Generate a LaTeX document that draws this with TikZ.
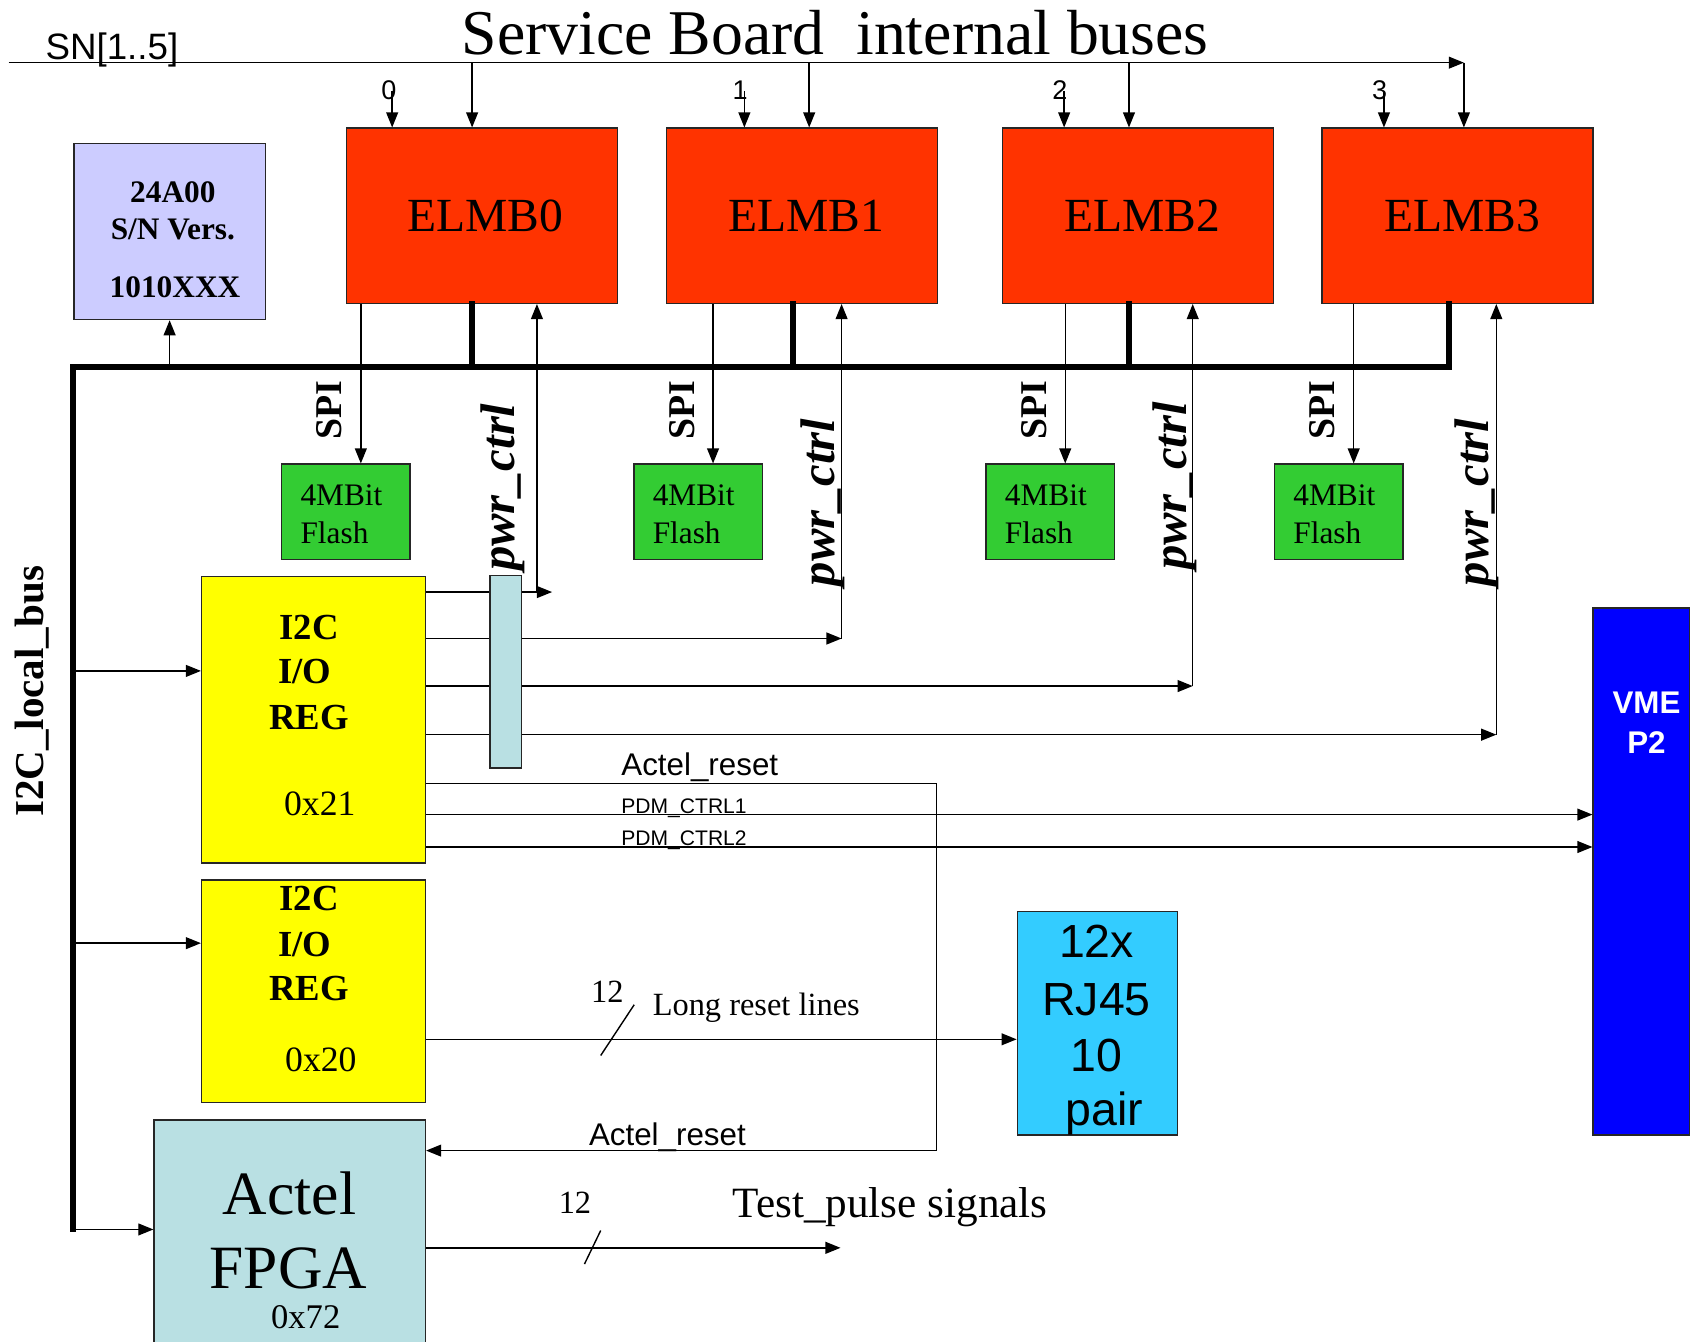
\documentclass[tikz,border=0pt]{standalone}
\usepackage{fontspec}
\setmainfont{Liberation Serif}
\setsansfont{Liberation Sans}
\usetikzlibrary{arrows.meta}
\newcommand{\fsz}[1]{\fontsize{#1}{#1}\selectfont}
\definecolor{elmbred}{HTML}{FF3300}
\definecolor{flashgreen}{HTML}{33CC33}
\definecolor{regyellow}{HTML}{FFFF00}
\definecolor{eeprom}{HTML}{CCCCFF}
\definecolor{actelcyan}{HTML}{B9E0E3}
\definecolor{rjblue}{HTML}{33CCFF}
\definecolor{vmeblue}{HTML}{0000FF}
\tikzset{
  blk/.style={draw=black!85, line width=1.4pt, inner sep=0pt, anchor=north west},
  arr/.style={line width=1.3pt, -{Triangle[length=14pt,width=11pt]}},
  wire/.style={line width=1.3pt},
  bus/.style={line width=5.5pt, line join=miter, line cap=rect},
  lbl/.style={inner sep=0pt, anchor=base},
  lblw/.style={inner sep=0pt, anchor=base west},
  vlbl/.style={inner sep=0pt, rotate=90},
}
\begin{document}
\begin{tikzpicture}[x=1pt,y=-1pt]
\useasboundingbox (0,0) rectangle (1568,1242);

% ---------- blocks ----------
\node[blk, fill=eeprom, minimum width=177pt, minimum height=163pt] (eep) at (68,132) {};
\node[blk, fill=elmbred, minimum width=251pt, minimum height=162pt, font=\fsz{44}] (elmb0) at (320,118) {\hspace*{6pt}ELMB0};
\node[blk, fill=elmbred, minimum width=251pt, minimum height=162pt, font=\fsz{44}] (elmb1) at (616,118) {\hspace*{8pt}ELMB1};
\node[blk, fill=elmbred, minimum width=251pt, minimum height=162pt, font=\fsz{44}] (elmb2) at (927,118) {\hspace*{8pt}ELMB2};
\node[blk, fill=elmbred, minimum width=251pt, minimum height=162pt, font=\fsz{44}] (elmb3) at (1223,118) {\hspace*{8pt}ELMB3};
\node[blk, fill=flashgreen, minimum width=119pt, minimum height=88pt] (fl0) at (260,429) {};
\node[blk, fill=flashgreen, minimum width=119pt, minimum height=88pt] (fl1) at (586,429) {};
\node[blk, fill=flashgreen, minimum width=119pt, minimum height=88pt] (fl2) at (912,429) {};
\node[blk, fill=flashgreen, minimum width=119pt, minimum height=88pt] (fl3) at (1179,429) {};
\node[blk, fill=regyellow, minimum width=207pt, minimum height=265pt] (reg1) at (186,533) {};
\node[blk, fill=regyellow, minimum width=207pt, minimum height=206pt] (reg0) at (186,814) {};
\node[blk, fill=actelcyan, minimum width=251pt, minimum height=214pt] (fpga) at (142,1036) {};
\node[blk, fill=rjblue, minimum width=148pt, minimum height=207pt] (rj) at (941,843) {};
\node[blk, fill=vmeblue, minimum width=89pt, minimum height=488pt] (vme) at (1474,562) {};

% ---------- serial-number bus ----------
\coordinate (snA) at (8,58);
\coordinate (snB) at (1355,58);
\coordinate (tap0) at (437,58);
\coordinate (tap1) at (749,58);
\coordinate (tap2) at (1045,58);
\draw[arr] (snA) -- (snB);
\draw[arr] (snB) -- (elmb3.north -| snB);
\draw[arr] (tap0) -- (elmb0.north -| tap0);
\draw[arr] (tap1) -- (elmb1.north -| tap1);
\draw[arr] (tap2) -- (elmb2.north -| tap2);

\node[lblw, font=\sffamily\fsz{34}] (snl) at (42,55) {SN[1..5]};
\node[lbl, font=\fsz{59}] (title) at (773,50) {Service Board~ internal buses};

% node-address inputs
\node[lbl, font=\sffamily\fsz{25}] (a0) at (360,92) {0};
\node[lbl, font=\sffamily\fsz{25}] (a1) at (685,92) {1};
\node[lbl, font=\sffamily\fsz{25}] (a2) at (981,92) {2};
\node[lbl, font=\sffamily\fsz{25}] (a3) at (1277,92) {3};
\coordinate (ad0) at (363,84);
\coordinate (ad1) at (689,84);
\coordinate (ad2) at (985,84);
\coordinate (ad3) at (1281,84);
\draw[arr] (ad0) -- (elmb0.north -| ad0);
\draw[arr] (ad1) -- (elmb1.north -| ad1);
\draw[arr] (ad2) -- (elmb2.north -| ad2);
\draw[arr] (ad3) -- (elmb3.north -| ad3);

% ---------- I2C local bus ----------
\coordinate (bA) at (68,340);
\coordinate (bB) at (1341,340);
\coordinate (bC) at (68,1138);
\draw[bus] (elmb3.south -| bB) -- (bB) -- (bA) -- (bC);
\coordinate (j0) at (437,340);
\coordinate (j1) at (734,340);
\coordinate (j2) at (1045,340);
\draw[bus] (j0) -- (elmb0.south -| j0);
\draw[bus] (j1) -- (elmb1.south -| j1);
\draw[bus] (j2) -- (elmb2.south -| j2);
\coordinate (je) at (157,340);
\draw[arr] (je) -- (eep.south -| je);
\coordinate (ir1) at (68,621);
\coordinate (ir0) at (68,873);
\coordinate (ifp) at (68,1138);
\draw[arr] (ir1) -- (reg1.west |- ir1);
\draw[arr] (ir0) -- (reg0.west |- ir0);
\draw[arr] (ifp) -- (fpga.west |- ifp);

% ---------- SPI to flash ----------
\coordinate (s0) at (334,0);
\coordinate (s1) at (660,0);
\coordinate (s2) at (986,0);
\coordinate (s3) at (1253,0);
\draw[arr] (elmb0.south -| s0) -- (fl0.north -| s0);
\draw[arr] (elmb1.south -| s1) -- (fl1.north -| s1);
\draw[arr] (elmb2.south -| s2) -- (fl2.north -| s2);
\draw[arr] (elmb3.south -| s3) -- (fl3.north -| s3);

% ---------- power control ----------
\coordinate (p0) at (497,548);
\coordinate (p0t) at (511,548);
\coordinate (p1) at (779,591);
\coordinate (p2) at (1104,635);
\coordinate (p3) at (1385,680);
\draw[arr] (reg1.east |- p0) -- (p0t);
\draw[arr] (p0) -- (elmb0.south -| p0);
\draw[arr] (reg1.east |- p1) -- (p1);
\draw[arr] (p1) -- (elmb1.south -| p1);
\draw[arr] (reg1.east |- p2) -- (p2);
\draw[arr] (p2) -- (elmb2.south -| p2);
\draw[arr] (reg1.east |- p3) -- (p3);
\draw[arr] (p3) -- (elmb3.south -| p3);
\node[blk, fill=actelcyan, minimum width=29pt, minimum height=178pt] (bar) at (453,532) {};

% ---------- register outputs ----------
\coordinate (ar1) at (867,725);
\coordinate (ar2) at (867,1065);
\coordinate (pd1) at (0,754);
\coordinate (pd2) at (0,784);
\draw[arr] (reg1.east |- ar1) -- (ar1) -- (ar2) -- (fpga.east |- ar2);
\draw[arr] (reg1.east |- pd1) -- (vme.west |- pd1);
\draw[arr] (reg1.east |- pd2) -- (vme.west |- pd2);
\coordinate (lr) at (0,962);
\draw[arr] (reg0.east |- lr) -- (rj.west |- lr);
\draw[wire] (556,977) -- (587,930);
\coordinate (tp) at (778,1155);
\draw[arr] (fpga.east |- tp) -- (tp);
\draw[wire] (541,1170) -- (556,1139);

% ---------- texts ----------
\node[lbl, font=\bfseries\fsz{29}] (e1) at (160,187) {24A00};
\node[lbl, font=\bfseries\fsz{29}] (e2) at (160,222) {S/N Vers.};
\node[lbl, font=\bfseries\fsz{29}] (e3) at (162,275) {1010XXX};

\node[lblw, font=\fsz{29}] (f0a) at (278,468) {4MBit};
\node[lblw, font=\fsz{29}] (f0b) at (278,503) {Flash};
\node[lblw, font=\fsz{29}] (f1a) at (604,468) {4MBit};
\node[lblw, font=\fsz{29}] (f1b) at (604,503) {Flash};
\node[lblw, font=\fsz{29}] (f2a) at (930,468) {4MBit};
\node[lblw, font=\fsz{29}] (f2b) at (930,503) {Flash};
\node[lblw, font=\fsz{29}] (f3a) at (1197,468) {4MBit};
\node[lblw, font=\fsz{29}] (f3b) at (1197,503) {Flash};

\node[vlbl, font=\bfseries\fsz{35}] (spi0) at (305,380) {SPI};
\node[vlbl, font=\bfseries\fsz{35}] (spi1) at (631,380) {SPI};
\node[vlbl, font=\bfseries\fsz{35}] (spi2) at (957,380) {SPI};
\node[vlbl, font=\bfseries\fsz{35}] (spi3) at (1224,380) {SPI};

\node[vlbl, font=\bfseries\itshape\fsz{45}] (pw0) at (465,451) {pwr\_ctrl};
\node[vlbl, font=\bfseries\itshape\fsz{45}] (pw1) at (762,465) {pwr\_ctrl};
\node[vlbl, font=\bfseries\itshape\fsz{45}] (pw2) at (1087,450) {pwr\_ctrl};
\node[vlbl, font=\bfseries\itshape\fsz{45}] (pw3) at (1367,465) {pwr\_ctrl};

\node[vlbl, font=\bfseries\fsz{38}] (i2cbus) at (30,640) {I2C\_local\_bus};

\node[lbl, font=\bfseries\fsz{34}] (r1a) at (286,592) {I2C};
\node[lbl, font=\bfseries\fsz{34}] (r1b) at (282,633) {I/O};
\node[lbl, font=\bfseries\fsz{34}] (r1c) at (286,675) {REG};
\node[lbl, font=\fsz{33}] (r1d) at (296,755) {0x21};
\node[lbl, font=\bfseries\fsz{34}] (r0a) at (286,843) {I2C};
\node[lbl, font=\bfseries\fsz{34}] (r0b) at (282,885) {I/O};
\node[lbl, font=\bfseries\fsz{34}] (r0c) at (286,926) {REG};
\node[lbl, font=\fsz{33}] (r0d) at (297,992) {0x20};

\node[lblw, font=\sffamily\fsz{29}] (arl1) at (575,718) {Actel\_reset};
\node[lblw, font=\sffamily\fsz{19.5}] (pdl1) at (575,753) {PDM\_CTRL1};
\node[lblw, font=\sffamily\fsz{19.5}] (pdl2) at (575,783) {PDM\_CTRL2};
\node[lblw, font=\sffamily\fsz{29}] (arl2) at (545,1060) {Actel\_reset};

\node[lblw, font=\fsz{30}] (n12a) at (547,928) {12};
\node[lblw, font=\fsz{30}] (lrl) at (604,940) {Long reset lines};
\node[lblw, font=\fsz{30}] (n12b) at (517,1123) {12};
\node[lblw, font=\fsz{40}] (tpl) at (678,1127) {Test\_pulse signals};

\node[lbl, font=\sffamily\fsz{43}] (rja) at (1015,886) {12x};
\node[lbl, font=\sffamily\fsz{43}] (rjb) at (1015,940) {RJ45};
\node[lbl, font=\sffamily\fsz{43}] (rjc) at (1015,992) {10};
\node[lbl, font=\sffamily\fsz{43}] (rjd) at (1022,1042) {pair};

\node[lbl, font=\sffamily\bfseries\fsz{29}, text=white] (vma) at (1524,660) {VME};
\node[lbl, font=\sffamily\bfseries\fsz{29}, text=white] (vmb) at (1524,697) {P2};

\node[lbl, font=\fsz{57}] (fpa) at (268,1124) {Actel};
\node[lbl, font=\fsz{57}] (fpb) at (267,1193) {FPGA};
\node[lbl, font=\fsz{32}] (fpc) at (283,1230) {0x72};
\end{tikzpicture}
\end{document}
